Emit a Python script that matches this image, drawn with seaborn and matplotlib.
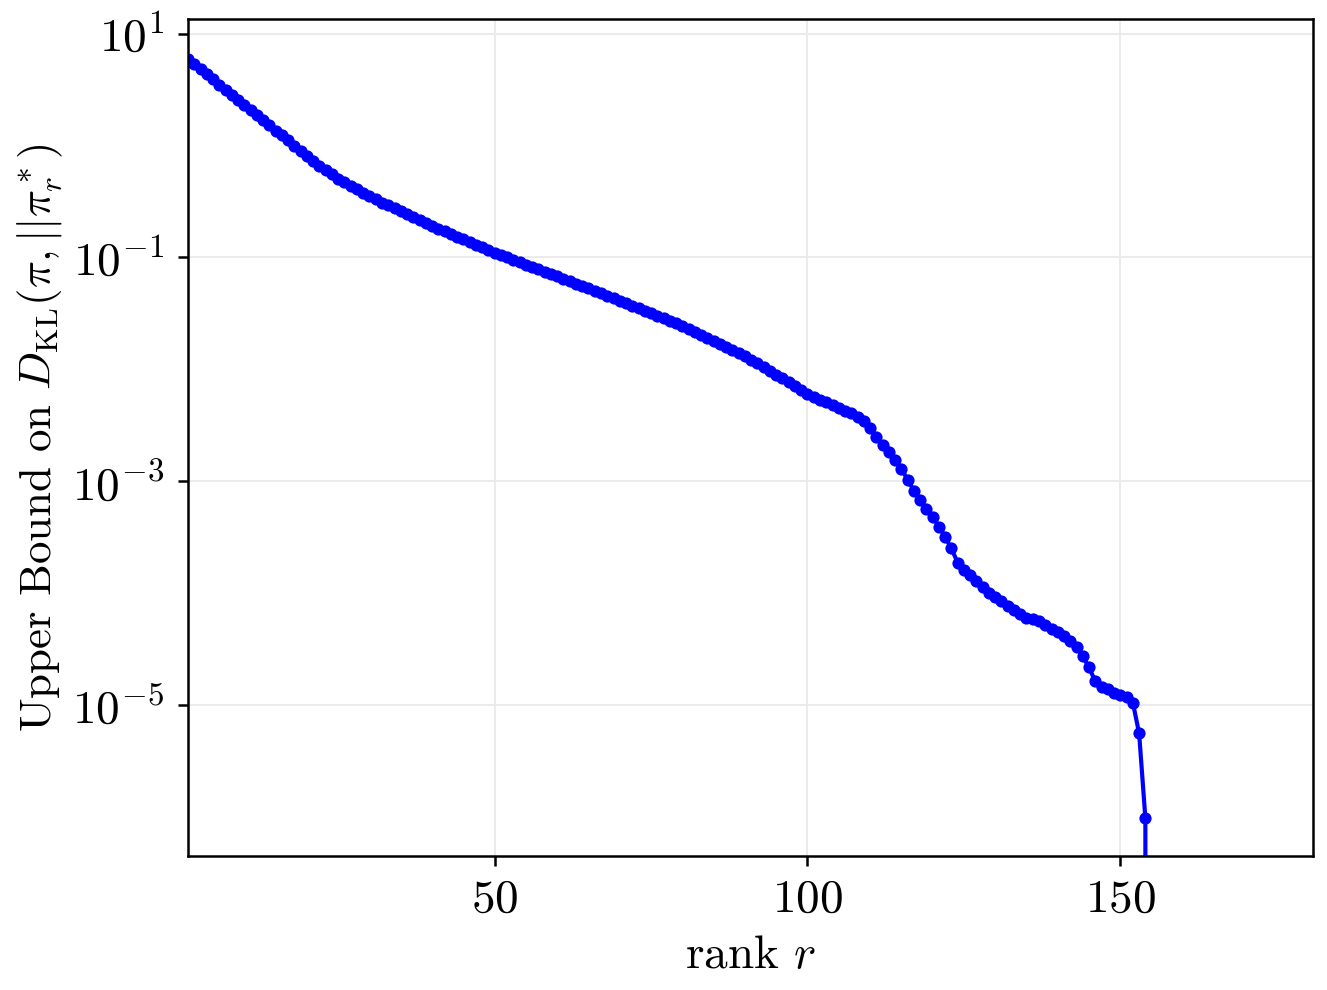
import numpy as np
import pandas as pd
import matplotlib
matplotlib.use("Agg")
import matplotlib.pyplot as plt
import matplotlib.ticker as mticker
import seaborn as sns

# rank r = 1 .. 181 (zeros after r = 154)
rank = list(range(1, 182))

bound = [
    5.92, 5.33, 4.80, 4.32, 3.89, 3.50, 3.16, 2.84, 2.56, 2.30,
    2.07, 1.87, 1.68, 1.51, 1.36, 1.23, 1.11, 0.996, 0.891, 0.804,
    0.727, 0.660, 0.602, 0.551, 0.506, 0.467, 0.433, 0.405, 0.378, 0.353,
    0.330, 0.309, 0.291, 0.274, 0.258, 0.243, 0.229, 0.216, 0.203, 0.191,
    0.181, 0.171, 0.162, 0.153, 0.145, 0.137, 0.130, 0.123, 0.116, 0.110,
    0.105, 0.0998, 0.0950, 0.0906, 0.0862, 0.0823, 0.0783, 0.0747, 0.0711, 0.0678,
    0.0644, 0.0613, 0.0582, 0.0554, 0.0527, 0.0501, 0.0476, 0.0453, 0.0430, 0.0410,
    0.0389, 0.0370, 0.0351, 0.0334, 0.0317, 0.0301, 0.0286, 0.0272, 0.0258, 0.0245,
    0.0230, 0.0217, 0.0204, 0.0191, 0.0180, 0.0169, 0.0159, 0.0150, 0.0141, 0.0132,
    0.0122, 0.0113, 0.0105, 0.00968, 0.00895, 0.00828, 0.00766, 0.00708, 0.00655, 0.00605,
    0.00568, 0.00534, 0.00507, 0.00482, 0.00453, 0.00426, 0.00405, 0.00377, 0.00347, 0.00300,
    0.00250, 0.00212, 0.00183, 0.00156, 0.00129, 0.00103, 8.23e-4, 6.84e-4, 5.68e-4, 4.82e-4,
    3.92e-4, 3.19e-4, 2.50e-4, 1.87e-4, 1.62e-4, 1.46e-4, 1.29e-4, 1.14e-4, 1.01e-4, 9.12e-5,
    8.40e-5, 7.73e-5, 7.12e-5, 6.43e-5, 5.92e-5, 5.80e-5, 5.57e-5, 5.13e-5, 4.72e-5, 4.44e-5,
    4.09e-5, 3.69e-5, 3.26e-5, 2.71e-5, 2.16e-5, 1.62e-5, 1.46e-5, 1.38e-5, 1.29e-5, 1.22e-5,
    1.17e-5, 1.05e-5, 5.57e-6, 9.7e-7,
] + [0.0] * 27

x_ticks = [50, 100, 150]
y_ticks = [1e1, 1e-1, 1e-3, 1e-5]

df = pd.DataFrame({"rank": rank, "bound": bound})

sns.set_style("ticks")
plt.rcParams["font.family"] = ["cmr10", "DejaVu Serif"]
plt.rcParams["mathtext.fontset"] = "cm"
plt.rcParams["axes.unicode_minus"] = False
plt.rcParams["axes.formatter.use_mathtext"] = True
for key in ["text.color", "axes.labelcolor", "xtick.color", "ytick.color"]:
    plt.rcParams[key] = "black"

fig, ax = plt.subplots(figsize=(6.635, 4.95), dpi=200)
fig.subplots_adjust(left=0.1417, right=0.9895, top=0.9808, bottom=0.1354)

sns.lineplot(data=df, x="rank", y="bound", ax=ax, color="#0000ff",
             linewidth=1.5, marker="o", markersize=4.4,
             markeredgecolor="#0000ff", markeredgewidth=0)

ax.set_yscale("log")
ax.set_xlim(1, 180.8)
ax.set_ylim(10 ** -6.35, 10 ** 1.13)

ax.xaxis.set_major_locator(mticker.FixedLocator(x_ticks))
ax.yaxis.set_major_locator(mticker.FixedLocator(y_ticks))
ax.yaxis.set_major_formatter(mticker.LogFormatterSciNotation())
ax.yaxis.set_minor_locator(mticker.NullLocator())
ax.xaxis.set_minor_locator(mticker.NullLocator())

ax.grid(True, color="#ebebeb", linewidth=0.7)
for s in ax.spines.values():
    s.set_visible(True)
    s.set_linewidth(0.9)
    s.set_color("black")
ax.tick_params(direction="out", length=3.5, width=0.9, labelsize=17, pad=5)

ax.set_xlabel(r"rank $r$", fontsize=17, labelpad=5)
ax.set_ylabel(r"Upper Bound on $D_{\mathrm{KL}}(\pi, ||\pi_r^*)$",
              fontsize=16.2, labelpad=2.5)

fig.savefig("out.png", dpi=200)
